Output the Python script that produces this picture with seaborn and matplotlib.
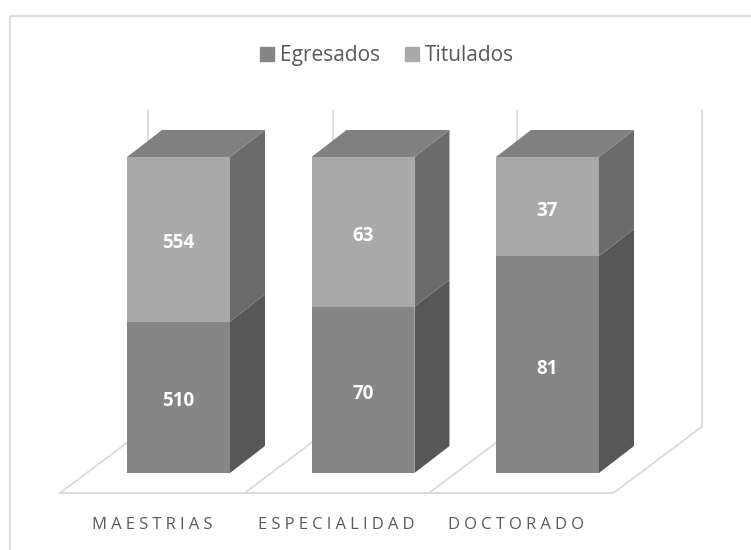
import matplotlib
matplotlib.use("Agg")
import matplotlib.pyplot as plt
from matplotlib.lines import Line2D
import pandas as pd
import seaborn as sns

categories = ["MAESTRIAS", "ESPECIALIDAD", "DOCTORADO"]
egresados = [510, 70, 81]
titulados = [554, 63, 37]

# colours of the fake 3d faces
front = {"Egresados": "#868686", "Titulados": "#a9a9a9"}
side = {"Egresados": "#575757", "Titulados": "#6b6b6b"}
top_face = "#808080"
grid_col = "#d9d9d9"
text_col = "#595959"

W, H = 751, 550
sns.set_style("white")
plt.rcParams["font.family"] = ["Open Sans", "DejaVu Sans"]

df = pd.DataFrame({"cat": categories, "Egresados": egresados, "Titulados": titulados})
total = df["Egresados"] + df["Titulados"]
df["share_e"] = df["Egresados"] / total
df["share_t"] = df["Titulados"] / total

fig = plt.figure(figsize=(W / 100, H / 100), dpi=100)
# axes box is the front plane of the 100% stack
ax = fig.add_axes([86.25 / W, 1 - 473 / H, 553.5 / W, 316 / H])

sns.barplot(data=df, x="cat", y="share_e", color=front["Egresados"], saturation=1,
            width=0.558, label="Egresados", legend=False, linewidth=0, ax=ax)
sns.barplot(data=df, x="cat", y="share_t", bottom=df["share_e"], color=front["Titulados"],
            saturation=1, width=0.558, label="Titulados", legend=False, linewidth=0, ax=ax)
ax.set_xlim(-0.5, 2.5)
ax.set_ylim(0, 1)

# depth of the box, in axis units
dx = 35 / 184.5
dy = 27 / 316

# side and top faces come from the bars themselves
for container, name in zip(ax.containers, ["Egresados", "Titulados"]):
    for bar in container:
        x1 = bar.get_x() + bar.get_width()
        y0 = bar.get_y()
        y1 = y0 + bar.get_height()
        ax.fill([x1, x1 + dx, x1 + dx, x1], [y0, y0 + dy, y1 + dy, y1],
                color=side[name], lw=0, zorder=1.2, clip_on=False)
for bar in ax.containers[1]:
    x0 = bar.get_x()
    x1 = x0 + bar.get_width()
    y1 = bar.get_y() + bar.get_height()
    ax.fill([x0, x1, x1 + dx, x0 + dx], [y1, y1, y1 + dy, y1 + dy],
            color=top_face, lw=0, zorder=1.2, clip_on=False)

# floor and back wall
floor_y = -20 / 316
back_y = 46 / 316
wall_top = 363 / 316
shift_front = -26.25 / 184.5
shift_back = 61.75 / 184.5
for edge in [-0.5, 0.5, 1.5, 2.5]:
    if edge < 2.5:
        ax.plot([edge + shift_front, edge + shift_back], [floor_y, back_y],
                color=grid_col, lw=1.3, zorder=0.5, clip_on=False)
    ax.plot([edge + shift_back, edge + shift_back], [back_y, wall_top],
            color=grid_col, lw=1.3, zorder=0.5, clip_on=False)
ax.plot([-0.5 + shift_front, 2.5 + shift_front, 2.5 + shift_back], [floor_y, floor_y, back_y],
        color=grid_col, lw=1.3, zorder=0.5, clip_on=False)

for container, vals in zip(ax.containers, [egresados, titulados]):
    ax.bar_label(container, labels=[str(v) for v in vals], label_type="center",
                 color="white", fontsize=13.5, fontweight="bold", padding=-3)

ax.set_xlabel("")
ax.set_ylabel("")
ax.set_yticks([])
# labels sit under the front edge of the floor, not under the bars
ax.set_xticks([i + off / 184.5 for i, off in enumerate([-26.5, -27, -32])])
# wide spaces stand in for the letter spacing of the original
ax.set_xticklabels(["\u2005".join(c) for c in categories], color=text_col, fontsize=12)
ax.tick_params(axis="x", length=0, pad=32)
sns.despine(ax=ax, left=True, bottom=True)

handles = [plt.Rectangle((0, 0), 1, 1, color=front["Egresados"]),
           plt.Rectangle((0, 0), 1, 1, color=front["Titulados"])]
fig.legend(handles, ["Egresados", "Titulados"], loc="center", bbox_to_anchor=(387 / W, 1 - 55.5 / H),
           ncol=2, frameon=False, fontsize=15, labelcolor=text_col, handlelength=0.67,
           handleheight=0.67, handletextpad=0.29, columnspacing=1.2)

# chart frame, open on the right
fig.add_artist(Line2D([10 / W, 10 / W, 1], [0, 1 - 15.5 / H, 1 - 15.5 / H],
                      color=grid_col, lw=1.3))

fig.savefig("out.png", dpi=100)
